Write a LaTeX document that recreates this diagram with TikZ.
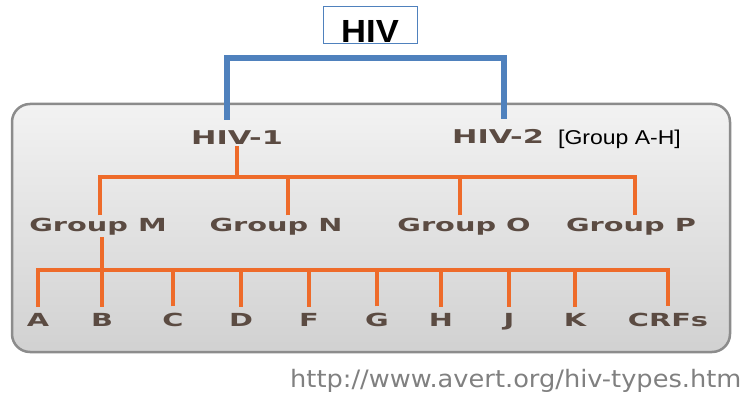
\documentclass[tikz,border=0pt]{standalone}
\usepackage{fontspec}
\usepackage{graphicx}
\usetikzlibrary{positioning}
\newfontfamily\verdfont{DejaVu Sans}
\newfontfamily\arialfont{Liberation Sans}
\definecolor{hivorange}{HTML}{EE6B2A}
\definecolor{hivblue}{HTML}{4F81BD}
\definecolor{labelbrown}{HTML}{5B4B42}
\definecolor{urlgray}{HTML}{808080}
\definecolor{boxedge}{HTML}{8C8C8C}
\newcommand{\wide}[2][1.6]{\scalebox{#1}[1]{#2}}

\begin{document}
\begin{tikzpicture}[x=1pt, y=-1pt, line join=miter]
	\tikzstyle{branch}=[draw=hivorange, line width=4pt]
	\tikzstyle{root}=[draw=hivblue, line width=6pt]
	\tikzstyle{type}=[font=\verdfont\bfseries\fontsize{19}{19}\selectfont, text=labelbrown, anchor=base, inner sep=2pt]
	\tikzstyle{group}=[type, font=\verdfont\bfseries\fontsize{18}{18}\selectfont]
	\tikzstyle{subtype}=[group, inner ysep=6pt]
	\useasboundingbox (0,0) rectangle (745,396);
	% grey panel
	\draw[draw=boxedge, line width=2.5pt, rounded corners=18pt, top color=black!5, middle color=black!6, bottom color=black!18] (12,104) rectangle (730,352);
	\node[draw=hivblue, line width=0.8pt, font=\arialfont\bfseries\fontsize{32}{32}\selectfont, minimum width=94pt, text height=34pt, text depth=0pt, inner ysep=1.5pt, anchor=south] (hiv) at (370,44) {\wide[1.08]{HIV}};
	\node[type]     (hiv1) at (237,144) {\wide{HIV-1}};
	\node[type]     (hiv2) at (498,143) {\wide{HIV-2}};
	\node[font=\arialfont\fontsize{20}{20}\selectfont, anchor=base west, inner sep=0pt] (ah) at (558,144) {\wide[1.15]{[Group A-H]}};
	\node[group]    (gM) at (98,231)  {\wide{Group M}};
	\node[group]    (gN) at (276,231) {\wide{Group N}};
	\node[group]    (gO) at (464,231) {\wide{Group O}};
	\node[group]    (gP) at (631,231) {\wide{Group P}};
	\node[subtype]  (lA) at (38,326)  {\wide{A}};
	\node[subtype]  (lB) at (102,326) {\wide{B}};
	\node[subtype]  (lC) at (173,326) {\wide{C}};
	\node[subtype]  (lD) at (241,326) {\wide{D}};
	\node[subtype]  (lF) at (309,326) {\wide{F}};
	\node[subtype]  (lG) at (377,326) {\wide{G}};
	\node[subtype]  (lH) at (441,326) {\wide{H}};
	\node[subtype]  (lJ) at (509,326) {\wide{J}};
	\node[subtype]  (lK) at (575,326) {\wide{K}};
	\node[subtype]  (lCRF) at (668,326) {\wide{CRFs}};
	\node[font=\verdfont\fontsize{24}{24}\selectfont, text=urlgray, anchor=base west, inner sep=0pt] (url) at (290,387) {\wide[1.07]{http://www.avert.org/hiv-types.htm}};
	\coordinate (crown) at (366,58);
	\coordinate (split) at (237,177);
	\coordinate (fork)  at (102,270);
	% HIV-1 / HIV-2
	\draw[root, shorten <=8pt, shorten >=8pt] ([xshift=-10pt]hiv1.north) |- (crown) -| ([xshift=6pt]hiv2.north);
	% groups
	\draw[branch] (hiv1.south) -- (split);
	\draw[branch] ([xshift=2pt]gM.north) |- (split) -| ([xshift=4pt]gP.north);
	\draw[branch] ([xshift=12pt]gN.north) |- (split);
	\draw[branch] ([xshift=-4pt]gO.north) |- (split);
	% subtypes
	\draw[branch] ([xshift=4pt]gM.south) -- (lB.north);
	\draw[branch] (lA.north) |- (fork) -| (lCRF.north);
	\draw[branch] (lC.north) |- (fork);
	\draw[branch] (lD.north) |- (fork);
	\draw[branch] (lF.north) |- (fork);
	\draw[branch] (lG.north) |- (fork);
	\draw[branch] (lH.north) |- (fork);
	\draw[branch] (lJ.north) |- (fork);
	\draw[branch] (lK.north) |- (fork);
\end{tikzpicture}
\end{document}
